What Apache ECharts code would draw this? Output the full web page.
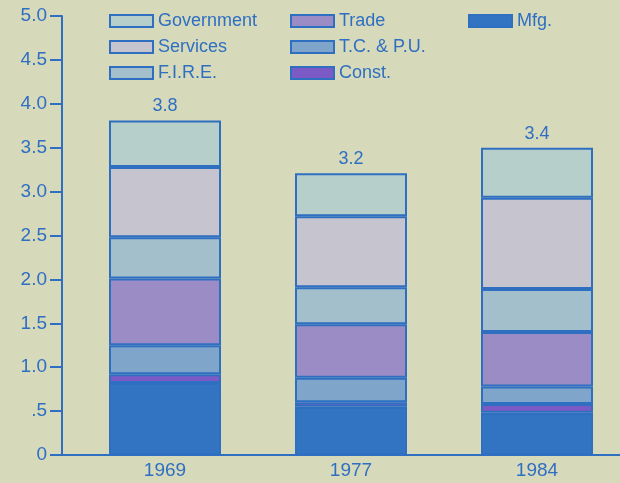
<!DOCTYPE html>
<html><head><meta charset="utf-8">
<script src="https://cdn.jsdelivr.net/npm/echarts@6/dist/echarts.min.js"></script>
<style>html,body{margin:0;padding:0;background:#d6d9ba;}#c{width:620px;height:483px;}</style>
</head><body><div id="c"></div>
<script>
const years = ['1969', '1977', '1984'];
const totalLabels = ['3.8', '3.2', '3.4'];
const mfg = [0.82, 0.55, 0.48];
const constr = [0.10, 0.05, 0.10];
const tcpu = [0.33, 0.28, 0.20];
const trade = [0.76, 0.61, 0.62];
const fire = [0.47, 0.42, 0.49];
const services = [0.80, 0.81, 1.04];
const government = [0.53, 0.49, 0.57];
const yTickLabels = ['0', '.5', '1.0', '1.5', '2.0', '2.5', '3.0', '3.5', '4.0', '4.5', '5.0'];

const blue = '#2f6fc2';
const font = 'Liberation Sans, Arial, sans-serif';
const chart = echarts.init(document.getElementById('c'));
function mk(name, vals, color, extra) {
  return Object.assign({
    name: name, type: 'bar', stack: 'total', barWidth: 112,
    data: vals,
    itemStyle: { color: color, borderColor: blue, borderWidth: 2 },
    emphasis: { disabled: true }
  }, extra || {});
}
const legendCommon = {
  orient: 'vertical', itemWidth: 43, itemHeight: 12, itemGap: 8,
  icon: 'rect', selectedMode: false,
  textStyle: { color: blue, fontSize: 18, fontFamily: font }
};
chart.setOption({
  backgroundColor: '#d6d9ba',
  animation: false,
  legend: [
    Object.assign({ left: 104, top: 7, data: ['Government', 'Services', 'F.I.R.E.'] }, legendCommon),
    Object.assign({ left: 285, top: 7, data: ['Trade', 'T.C. & P.U.', 'Const.'] }, legendCommon),
    Object.assign({ left: 463, top: 7, data: ['Mfg.'] }, legendCommon)
  ],
  grid: [
    { left: 72, width: 558, top: 16, bottom: 28, containLabel: false, outerBoundsMode: 'none' },
    { left: 62, width: 10, top: 16, bottom: 28, containLabel: false, outerBoundsMode: 'none' }
  ],
  xAxis: [{
    type: 'category', data: years, gridIndex: 0,
    axisLine: { show: true, lineStyle: { color: blue, width: 2 } },
    axisTick: { show: false },
    axisLabel: { color: blue, fontSize: 19, fontFamily: font, margin: 6 }
  }, {
    type: 'value', gridIndex: 1, min: 0, max: 1,
    splitLine: { show: false },
    axisLine: { show: true, lineStyle: { color: blue, width: 2 } },
    axisTick: { show: false }, axisLabel: { show: false }
  }],
  yAxis: [{
    type: 'value', min: 0, max: 5, interval: 0.5, gridIndex: 0, offset: 10,
    splitLine: { show: false },
    axisLine: { show: true, onZero: false, lineStyle: { color: blue, width: 2 } },
    axisTick: { show: true, length: 12, lineStyle: { color: blue, width: 2 } },
    axisLabel: {
      formatter: v => yTickLabels[Math.round(v * 2)],
      color: blue, fontSize: 19, fontFamily: font, margin: 15
    }
  }, {
    type: 'value', gridIndex: 1, min: 0, max: 5, show: false
  }],
  series: [
    mk('Mfg.', mfg, '#3273c2'),
    mk('Const.', constr, '#7c5ac6'),
    mk('T.C. & P.U.', tcpu, '#7fa5cb'),
    mk('Trade', trade, '#9c8cc6'),
    mk('F.I.R.E.', fire, '#a2bfcb'),
    mk('Services', services, '#c6c5cf'),
    mk('Government', government, '#b6cfcb', {
      label: {
        show: true, position: 'top', distance: 5,
        formatter: p => totalLabels[p.dataIndex],
        color: blue, fontSize: 18, fontFamily: font
      }
    })
  ]
});
</script></body></html>
